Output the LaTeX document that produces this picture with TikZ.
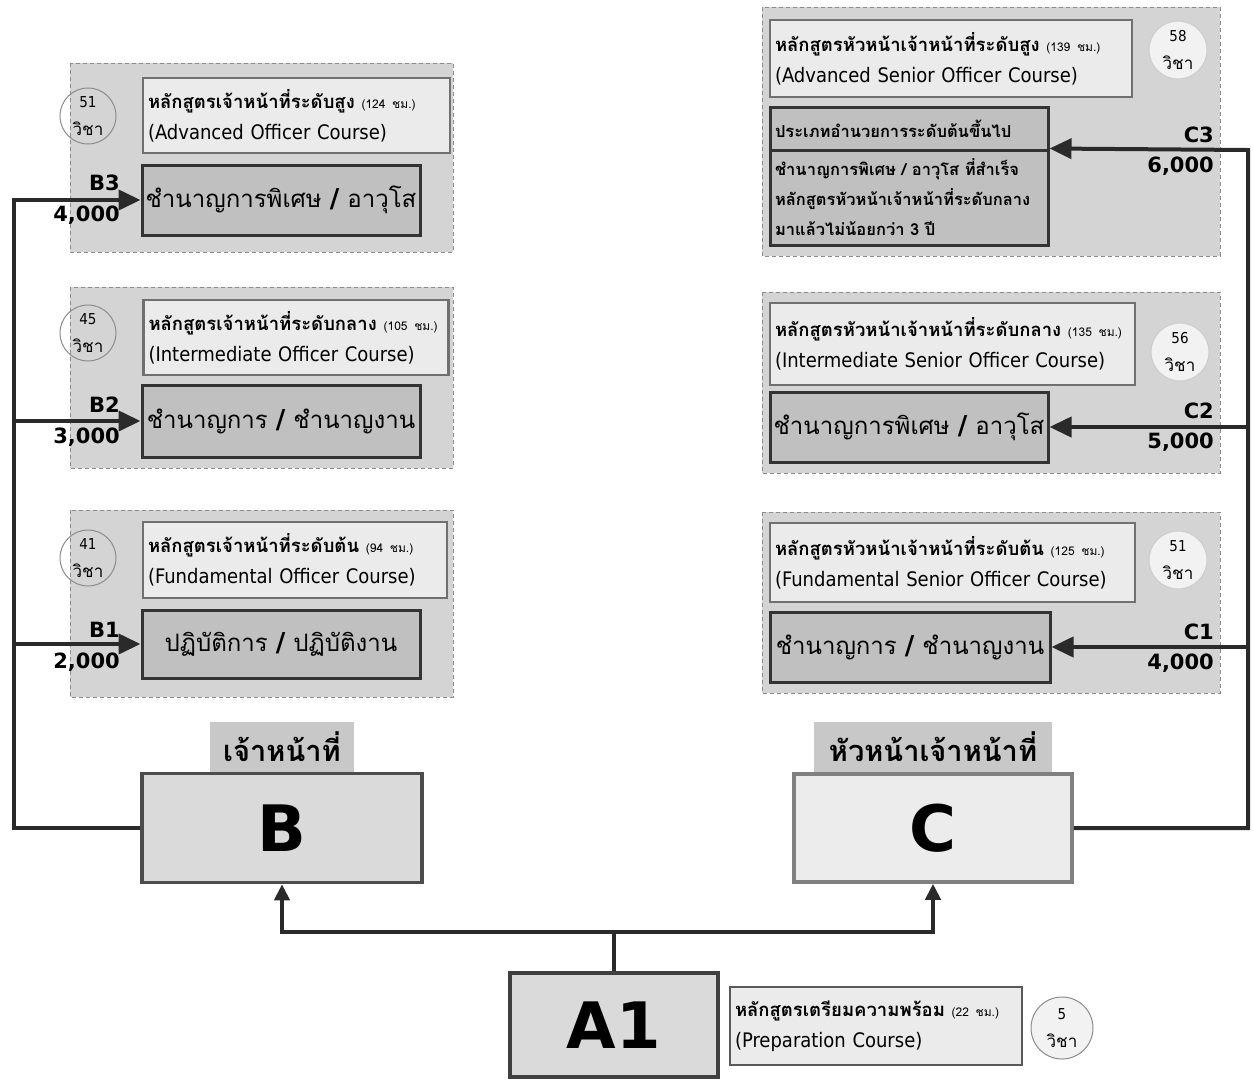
\documentclass[tikz,border=0pt]{standalone}
\usepackage{fontspec}
\setmainfont{DejaVu Sans Condensed}
\setsansfont{DejaVu Sans}
\newfontfamily\thf[Script=Thai]{Loma}
\usetikzlibrary{arrows.meta}
\definecolor{panelfill}{HTML}{D4D4D4}
\definecolor{panelborder}{HTML}{8C8C8C}
\definecolor{coursefill}{HTML}{EBEBEB}
\definecolor{courseborder}{HTML}{707070}
\definecolor{levelfill}{HTML}{C0C0C0}
\definecolor{levelborder}{HTML}{333333}
\definecolor{connc}{HTML}{2A2A2A}
\definecolor{bfill}{HTML}{DADADA}
\definecolor{cfill}{HTML}{ECECEC}
\definecolor{labfill}{HTML}{C8C8C8}
\definecolor{rcircle}{HTML}{CCCCCC}
\newcommand\bslash{{\sffamily\bfseries\fontsize{26}{26}\selectfont /}}
\newcommand\hrs[1]{{\thf\fontsize{12}{12}\selectfont (#1 ชม.)}}
\tikzset{
  panel/.style={draw=panelborder, fill=panelfill, line width=1pt, dash pattern=on 4pt off 3pt},
  coursebox/.style={draw=courseborder, fill=coursefill, line width=2.5pt, inner xsep=5pt, inner ysep=0pt, align=left, font=\fontsize{20}{31}\selectfont},
  levelbox/.style={draw=levelborder, fill=levelfill, line width=3pt, inner sep=0pt, align=center, font=\thf\fontsize{24}{28}\selectfont},
  lnum/.style={circle, draw=panelborder, line width=1pt, minimum size=56pt, inner sep=0pt, align=center, font=\fontsize{15}{28}\selectfont},
  rnum/.style={circle, draw=rcircle, fill=white!95!black, line width=1pt, minimum size=58pt, inner sep=0pt, align=center, font=\fontsize{15}{28}\selectfont},
  conn/.style={line width=4pt, draw=connc, line join=miter},
  bigtip/.style={-{Triangle[length=22pt,width=20pt]}},
  smalltip/.style={-{Triangle[length=16pt,width=15pt]}},
  steplbl/.style={anchor=east, inner sep=0pt, font=\sffamily\bfseries\fontsize{21}{21}\selectfont},
  bigbox/.style={line width=3.5pt, inner sep=0pt, font=\sffamily\bfseries\fontsize{64}{64}\selectfont},
  catlabel/.style={fill=labfill, inner sep=0pt, font=\thf\bfseries\fontsize{29}{29}\selectfont},
}
\newcommand\vicha{{\thf\fontsize{17}{17}\selectfont วิชา}}
\newcommand\ttl[2]{\mbox{{\thf\bfseries\fontsize{18.5}{31}\selectfont #1} \hrs{#2}}}
\begin{document}
\begin{tikzpicture}[x=1pt,y=-1pt]
\useasboundingbox[fill=white] (0,0) rectangle (1254,1080);
% panels
\draw[panel] (70,63) rectangle (453,252);
\draw[panel] (70,287) rectangle (453,468);
\draw[panel] (70,510) rectangle (453,697);
\draw[panel] (762,7) rectangle (1220,256);
\draw[panel] (762,292) rectangle (1220,473);
\draw[panel] (762,512) rectangle (1220,693);

% left side nodes
\node[coursebox, minimum height=75pt, text width=297pt] (B3c) at (296.5,115.5)
  {\ttl{หลักสูตรเจ้าหน้าที่ระดับสูง}{124}\\(Advanced Officer Course)};
\node[levelbox, minimum width=278pt, minimum height=70pt] (B3l) at (281,200) {ชำนาญการพิเศษ \bslash{} อาวุโส};
\node[lnum] (B3n) at (88,116) {51\\\vicha};

\node[coursebox, minimum height=75pt, text width=295pt] (B2c) at (296,337.5)
  {\ttl{หลักสูตรเจ้าหน้าที่ระดับกลาง}{105}\\(Intermediate Officer Course)};
\node[levelbox, minimum width=278pt, minimum height=72pt] (B2l) at (281,421) {ชำนาญการ \bslash{} ชำนาญงาน};
\node[lnum] (B2n) at (88,333) {45\\\vicha};

\node[coursebox, minimum height=76pt, text width=294pt] (B1c) at (295,560)
  {\ttl{หลักสูตรเจ้าหน้าที่ระดับต้น}{94}\\(Fundamental Officer Course)};
\node[levelbox, minimum width=278pt, minimum height=68pt] (B1l) at (281,644) {ปฏิบัติการ \bslash{} ปฏิบัติงาน};
\node[lnum] (B1n) at (88,558) {41\\\vicha};

% right side nodes
\node[coursebox, minimum height=77pt, text width=352pt] (C3c) at (951,58.5)
  {\ttl{หลักสูตรหัวหน้าเจ้าหน้าที่ระดับสูง}{139}\\(Advanced Senior Officer Course)};
\node[rnum] (C3n) at (1178,50) {58\\\vicha};
\node[levelbox, minimum width=278pt, minimum height=43pt, text width=268pt, align=left, font=\thf\bfseries\fontsize{16.5}{30}\selectfont] (C3a) at (909,128.5) {ประเภทอำนวยการระดับต้นขึ้นไป};
\node[levelbox, minimum width=278pt, minimum height=95pt, text width=268pt, align=left, font=\thf\bfseries\fontsize{16.5}{30}\selectfont] (C3b) at (909,197.5) {ชำนาญการพิเศษ / อาวุโส ที่สำเร็จ\\หลักสูตรหัวหน้าเจ้าหน้าที่ระดับกลาง\\มาแล้วไม่น้อยกว่า 3 ปี};

\node[coursebox, minimum height=82pt, text width=355pt] (C2c) at (952.5,344)
  {\ttl{หลักสูตรหัวหน้าเจ้าหน้าที่ระดับกลาง}{135}\\(Intermediate Senior Officer Course)};
\node[rnum] (C2n) at (1180,352) {56\\\vicha};
\node[levelbox, minimum width=278pt, minimum height=70pt] (C2l) at (909,427) {ชำนาญการพิเศษ \bslash{} อาวุโส};

\node[coursebox, minimum height=79pt, text width=355pt] (C1c) at (952.5,562.5)
  {\ttl{หลักสูตรหัวหน้าเจ้าหน้าที่ระดับต้น}{125}\\(Fundamental Senior Officer Course)};
\node[rnum] (C1n) at (1178,560) {51\\\vicha};
\node[levelbox, minimum width=280pt, minimum height=70pt] (C1l) at (910,647) {ชำนาญการ \bslash{} ชำนาญงาน};

% bottom nodes
\node[catlabel, minimum width=144pt, minimum height=50pt] (LabB) at (282,747) {เจ้าหน้าที่};
\node[catlabel, minimum width=238pt, minimum height=50pt] (LabC) at (933,747) {หัวหน้าเจ้าหน้าที่};
\node[bigbox, draw=black!70, fill=bfill, minimum width=280pt, minimum height=109pt] (Bbox) at (282,828) {B};
\node[bigbox, draw=black!50, fill=cfill, minimum width=278pt, minimum height=108pt] (Cbox) at (933,828) {C};
\node[bigbox, draw=black!75, fill=bfill, minimum width=208pt, minimum height=104pt] (A1) at (614,1025) {A1};
\node[coursebox, draw=black!65, minimum height=78pt, text width=282pt] (Prep) at (876,1026)
  {\ttl{หลักสูตรเตรียมความพร้อม}{22}\\(Preparation Course)};
\node[lnum, minimum size=62pt, fill=white!95!black] (Pn) at (1062,1028) {5\\\vicha};

% connectors
\coordinate (LB) at (14,828);
\coordinate (L3) at (14,200);
\coordinate (L2) at (14,421);
\coordinate (L1) at (14,644);
\coordinate (RB) at (1248,828);
\coordinate (R3) at (1248,150);
\coordinate (R2) at (1248,427);
\coordinate (R1) at (1248,647);
\coordinate (J) at (614,932);
\coordinate (JB) at (282,932);
\coordinate (JC) at (933,932);
\draw[conn, bigtip] (Bbox.west) -- (LB) -- (L3) -- (B3l.west);
\draw[conn, bigtip] (L2) -- (B2l.west);
\draw[conn, bigtip] (L1) -- (B1l.west);
\draw[conn, bigtip] (Cbox.east) -- (RB) -- (R3) -- (C3b.north east);
\draw[conn, bigtip] (R2) -- (C2l.east);
\draw[conn, bigtip] (R1) -- (C1l.east);
\draw[conn] (A1.north) -- (J);
\draw[conn, smalltip] (J) -- (JB) -- (Bbox.south);
\draw[conn, smalltip] (J) -- (JC) -- (Cbox.south);

% step labels
\node[steplbl] (B3lab) at (120,183) {B3};
\node[steplbl] (B3val) at (120,215) {4,000};
\node[steplbl] (B2lab) at (120,405) {B2};
\node[steplbl] (B2val) at (120,437) {3,000};
\node[steplbl] (B1lab) at (120,630) {B1};
\node[steplbl] (B1val) at (120,662) {2,000};
\node[steplbl] (C3lab) at (1214,135) {C3};
\node[steplbl] (C3val) at (1214,166) {6,000};
\node[steplbl] (C2lab) at (1214,411) {C2};
\node[steplbl] (C2val) at (1214,442) {5,000};
\node[steplbl] (C1lab) at (1214,632) {C1};
\node[steplbl] (C1val) at (1214,663) {4,000};
\end{tikzpicture}
\end{document}
